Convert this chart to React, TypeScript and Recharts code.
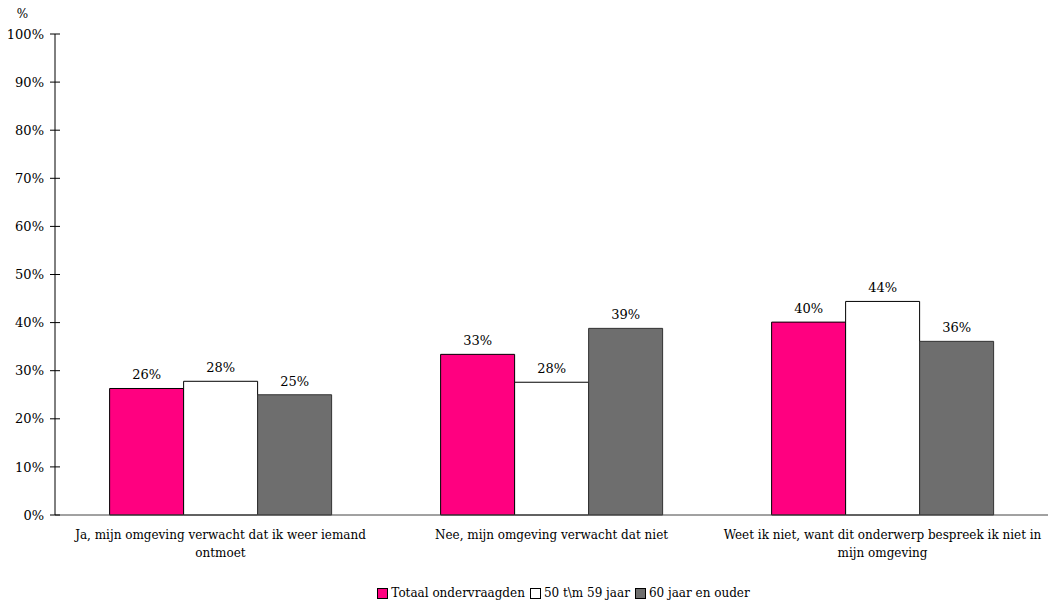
import React from 'react';
import { BarChart, Bar, XAxis, YAxis, LabelList, Legend } from 'recharts';

const categories = [
  'Ja, mijn omgeving verwacht dat ik weer iemand\nontmoet',
  'Nee, mijn omgeving verwacht dat niet',
  'Weet ik niet, want dit onderwerp bespreek ik niet in\nmijn omgeving',
];
const totaal = [26.3, 33.4, 40.1];
const jaar50 = [27.8, 27.6, 44.4];
const jaar60 = [25.0, 38.8, 36.1];
const yTicks = [0, 10, 20, 30, 40, 50, 60, 70, 80, 90, 100];

const seriesNames = ['Totaal ondervraagden', '50 t\\m 59 jaar', '60 jaar en ouder'];
const fills = ['#FF0080', '#FFFFFF', '#6E6E6E'];
const strokes = ['#000000', '#000000', '#333333'];

const data = categories.map((c, i) => ({
  name: c,
  totaal: totaal[i],
  jaar50: jaar50[i],
  jaar60: jaar60[i],
}));

const FONT = '"DejaVu Serif", "Liberation Serif", serif';
const FS = 13;
const TICK_SIZE = 5;
const TICK_MARGIN = 6;

const XTick = (props: any) => {
  const { x, y, payload } = props;
  const lines = String(payload.value).split('\n');
  return (
    <text x={x} y={y} textAnchor="middle" style={{ fontFamily: FONT, fontSize: 12 }} fill="#000">
      {lines.map((l, i) => (
        <tspan key={i} x={x} dy={i === 0 ? '0.85em' : '1.45em'}>{l}</tspan>
      ))}
    </text>
  );
};

const YTick = (props: any) => {
  const { x, y, payload } = props;
  const axisX = x + TICK_SIZE + TICK_MARGIN;
  return (
    <g>
      <line x1={axisX} x2={axisX + 5} y1={y} y2={y} stroke="#000" />
      <text x={x} y={y} dy="0.355em" textAnchor="end" style={{ fontFamily: FONT, fontSize: FS }} fill="#000">
        {`${payload.value}%`}
      </text>
    </g>
  );
};

const LegendContent = () => (
  <div style={{ display: 'flex', justifyContent: 'center', alignItems: 'center', fontFamily: FONT, fontSize: 12, color: '#000', height: 22, paddingLeft: 84 }}>
    {seriesNames.map((n, i) => (
      <span key={n} style={{ display: 'inline-flex', alignItems: 'center', marginRight: 5 }}>
        <span style={{ display: 'inline-block', width: 9, height: 9, background: fills[i], border: '1px solid #000', marginRight: 3 }} />
        {n}
      </span>
    ))}
  </div>
);

const fmt = (v: any) => `${Math.round(Number(v))}%`;
const labelStyle = { fontFamily: FONT, fontSize: FS, fill: '#000' };

export default function App() {
  return (
    <div style={{ position: 'absolute', left: 0, top: 0, width: 1050, height: 604, background: '#fff', fontFamily: FONT }}>
      <BarChart
        width={1050}
        height={604}
        data={data}
        margin={{ top: 34, right: 2, left: 0, bottom: 0 }}
        barCategoryGap="16.5%"
        barGap={0}
        style={{ fontFamily: FONT }}
      >
        <XAxis
          dataKey="name"
          tick={<XTick />}
          tickLine={false}
          tickSize={0}
          tickMargin={14}
          height={67}
          interval={0}
          axisLine={{ stroke: '#444' }}
        />
        <YAxis
          domain={[0, 100]}
          ticks={yTicks}
          width={55}
          tickSize={TICK_SIZE}
          tickMargin={TICK_MARGIN}
          axisLine={{ stroke: '#000' }}
          tickLine={{ stroke: '#000' }}
          tick={<YTick />}
          interval={0}
          label={{ value: '%', position: 'top', offset: 16, dx: -5, style: { fontFamily: FONT, fontSize: 12 }, fill: '#000' }}
        />
        <Legend verticalAlign="bottom" height={22} content={<LegendContent />} />
        <Bar dataKey="totaal" name={seriesNames[0]} fill={fills[0]} stroke={strokes[0]} strokeWidth={1} isAnimationActive={false}>
          <LabelList dataKey="totaal" position="top" offset={9} formatter={fmt} style={labelStyle} />
        </Bar>
        <Bar dataKey="jaar50" name={seriesNames[1]} fill={fills[1]} stroke={strokes[1]} strokeWidth={1} isAnimationActive={false}>
          <LabelList dataKey="jaar50" position="top" offset={9} formatter={fmt} style={labelStyle} />
        </Bar>
        <Bar dataKey="jaar60" name={seriesNames[2]} fill={fills[2]} stroke={strokes[2]} strokeWidth={1} isAnimationActive={false}>
          <LabelList dataKey="jaar60" position="top" offset={9} formatter={fmt} style={labelStyle} />
        </Bar>
      </BarChart>
    </div>
  );
}
